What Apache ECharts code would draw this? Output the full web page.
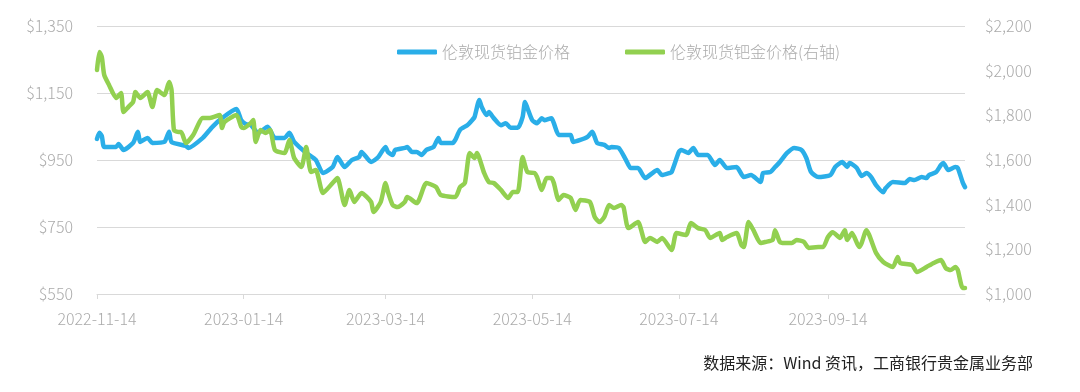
<!DOCTYPE html>
<html>
<head>
<meta charset="utf-8">
<script src="https://cdn.jsdelivr.net/npm/echarts@6/dist/echarts.min.js"></script>
<style>
html,body{margin:0;padding:0;background:#fff;}
#chart{width:1080px;height:392px;}
</style>
</head>
<body>
<div id="chart"></div>
<script>
// x轴刻度日期
var tickLabels = ['2022-11-14','2023-01-14','2023-03-14','2023-05-14','2023-07-14','2023-09-14'];

// 伦敦现货铂金价格（左轴）
var platDates = ['2022-11-14','2022-11-15','2022-11-16','2022-11-17','2022-11-22','2022-11-23','2022-11-25','2022-11-29',
	'2022-12-01','2022-12-02','2022-12-05','2022-12-07','2022-12-12','2022-12-14','2022-12-15','2022-12-21','2022-12-22','2022-12-28',
	'2023-01-01','2023-01-05','2023-01-11','2023-01-13','2023-01-15','2023-01-17','2023-01-20','2023-01-24','2023-01-27','2023-01-31',
	'2023-02-02','2023-02-04','2023-02-09','2023-02-13','2023-02-16','2023-02-20','2023-02-22','2023-02-25','2023-02-28',
	'2023-03-03','2023-03-04','2023-03-08','2023-03-11','2023-03-14','2023-03-15','2023-03-17','2023-03-18','2023-03-22','2023-03-23','2023-03-25','2023-03-27','2023-03-29','2023-03-31',
	'2023-04-03','2023-04-05','2023-04-06','2023-04-11','2023-04-12','2023-04-14','2023-04-17','2023-04-19','2023-04-20','2023-04-22','2023-04-23','2023-04-25','2023-04-26','2023-04-28',
	'2023-05-01','2023-05-03','2023-05-05','2023-05-08','2023-05-10','2023-05-11','2023-05-12','2023-05-14','2023-05-16','2023-05-18','2023-05-19','2023-05-22','2023-05-23','2023-05-25','2023-05-27','2023-05-30','2023-05-31',
	'2023-06-03','2023-06-06','2023-06-08','2023-06-10','2023-06-13','2023-06-15','2023-06-16','2023-06-19','2023-06-22','2023-06-24','2023-06-27','2023-06-30',
	'2023-07-03','2023-07-05','2023-07-07','2023-07-10','2023-07-11','2023-07-14','2023-07-15','2023-07-18','2023-07-20','2023-07-22','2023-07-26','2023-07-29','2023-07-31',
	'2023-08-03','2023-08-07','2023-08-10','2023-08-13','2023-08-17','2023-08-18','2023-08-21','2023-08-23','2023-08-25','2023-08-28','2023-08-31',
	'2023-09-03','2023-09-05','2023-09-07','2023-09-10','2023-09-15','2023-09-17','2023-09-20','2023-09-22','2023-09-23','2023-09-26','2023-09-28','2023-09-30',
	'2023-10-02','2023-10-04','2023-10-07','2023-10-08','2023-10-11','2023-10-16','2023-10-18','2023-10-20','2023-10-23','2023-10-25','2023-10-26','2023-10-29','2023-10-31',
	'2023-11-01','2023-11-03','2023-11-06','2023-11-07','2023-11-09','2023-11-10'];
var platValues = [1013,1031,1022,989,989,998,980,1001,
	1034,1004,1016,1001,1004,1034,1004,992,986,1016,
	1049,1075,1102,1069,1057,1054,1031,1049,1016,1016,
	1031,1004,971,950,911,929,959,929,950,
	959,974,944,959,989,974,965,980,986,989,974,974,965,980,
	989,1016,1001,1001,1010,1040,1054,1069,1078,1129,1108,1084,1093,1075,
	1054,1060,1046,1046,1078,1123,1105,1069,1060,1075,1069,1075,1060,1025,1025,1025,1004,
	1010,1019,1034,1001,995,986,989,986,950,926,926,896,
	911,920,905,911,914,974,980,971,986,965,965,935,950,
	926,929,899,905,884,911,914,929,944,971,986,
	980,956,914,899,905,929,944,929,941,926,902,911,
	899,875,854,866,884,881,893,890,899,896,905,914,935,
	941,920,929,926,884,869];

// 伦敦现货钯金价格（右轴）
var palDates = ['2022-11-14','2022-11-15','2022-11-16','2022-11-17','2022-11-19','2022-11-22','2022-11-24','2022-11-25','2022-11-27','2022-11-29','2022-11-30',
	'2022-12-02','2022-12-05','2022-12-07','2022-12-09','2022-12-12','2022-12-14','2022-12-15','2022-12-16','2022-12-18','2022-12-19','2022-12-21','2022-12-24','2022-12-28','2022-12-31',
	'2023-01-04','2023-01-05','2023-01-06','2023-01-11','2023-01-13','2023-01-14','2023-01-17','2023-01-18','2023-01-19','2023-01-21','2023-01-23','2023-01-25','2023-01-27','2023-01-31',
	'2023-02-02','2023-02-04','2023-02-07','2023-02-09','2023-02-11','2023-02-13','2023-02-16','2023-02-20','2023-02-22','2023-02-25','2023-02-27',
	'2023-03-01','2023-03-04','2023-03-08','2023-03-09','2023-03-12','2023-03-14','2023-03-15','2023-03-17','2023-03-19','2023-03-22','2023-03-23','2023-03-27','2023-03-31',
	'2023-04-04','2023-04-06','2023-04-12','2023-04-14','2023-04-16','2023-04-18','2023-04-20','2023-04-21','2023-04-24','2023-04-26','2023-04-28',
	'2023-05-01','2023-05-04','2023-05-06','2023-05-08','2023-05-10','2023-05-12','2023-05-15','2023-05-16','2023-05-18','2023-05-20','2023-05-22','2023-05-23','2023-05-25','2023-05-27','2023-05-30',
	'2023-06-01','2023-06-03','2023-06-07','2023-06-09','2023-06-11','2023-06-13','2023-06-15','2023-06-17','2023-06-20','2023-06-21','2023-06-23','2023-06-27','2023-06-30',
	'2023-07-02','2023-07-05','2023-07-07','2023-07-11','2023-07-13','2023-07-17','2023-07-19','2023-07-22','2023-07-25','2023-07-27','2023-07-31',
	'2023-08-01','2023-08-03','2023-08-07','2023-08-09','2023-08-10','2023-08-12','2023-08-14','2023-08-17','2023-08-19','2023-08-22','2023-08-23','2023-08-25','2023-08-27','2023-08-30',
	'2023-09-01','2023-09-04','2023-09-06','2023-09-10','2023-09-12','2023-09-14','2023-09-16','2023-09-19','2023-09-21','2023-09-22','2023-09-24','2023-09-27','2023-09-28','2023-09-30',
	'2023-10-04','2023-10-07','2023-10-11','2023-10-13','2023-10-14','2023-10-19','2023-10-21','2023-10-25','2023-10-28','2023-10-31',
	'2023-11-02','2023-11-04','2023-11-06','2023-11-07','2023-11-09','2023-11-10'];
var palValues = [2003,2084,2061,1981,1936,1878,1900,1815,1837,1860,1904,
	1878,1904,1837,1913,1891,1949,1913,1734,1725,1725,1676,1712,1788,1788,
	1801,1743,1770,1801,1748,1743,1766,1779,1681,1734,1721,1734,1645,1631,
	1690,1609,1569,1658,1546,1555,1452,1497,1519,1398,1466,
	1412,1452,1412,1367,1412,1497,1457,1398,1389,1412,1434,1407,1497,
	1479,1443,1434,1479,1497,1631,1609,1631,1542,1501,1497,
	1466,1430,1457,1457,1613,1546,1542,1524,1466,1519,1519,1497,1421,1443,1430,
	1376,1421,1412,1345,1322,1345,1398,1385,1398,1389,1295,1322,1233,
	1251,1233,1251,1197,1273,1264,1318,1295,1286,1251,1273,
	1242,1255,1273,1219,1210,1322,1286,1228,1233,1242,1286,1233,1228,1228,
	1242,1233,1206,1210,1210,1255,1277,1251,1286,1242,1273,1210,1228,1286,
	1184,1143,1121,1166,1139,1130,1098,1121,1139,1152,
	1116,1107,1121,1107,1027,1027];

// 每个日历日一个类目
var categories = [];
var d = new Date(2022, 10, 14);
var end = new Date(2023, 10, 10);
while (d <= end) {
	var m = d.getMonth() + 1, day = d.getDate();
	categories.push(d.getFullYear() + '-' + (m < 10 ? '0' + m : m) + '-' + (day < 10 ? '0' + day : day));
	d.setDate(d.getDate() + 1);
}

function pairs(dates, values) {
	var out = [];
	for (var i = 0; i < dates.length; i++) {
		out.push([dates[i], values[i]]);
	}
	return out;
}

function money(v) {
	return '$' + String(v).replace(/\B(?=(\d{3})+(?!\d))/g, ',');
}

var font = '"Noto Sans CJK SC", "Noto Sans", sans-serif';
var gray = '#ababab';

var chart = echarts.init(document.getElementById('chart'));
var option = {
	animation: false,
	textStyle: { fontFamily: font },
	legend: {
		left: 392,
		top: 39,
		icon: 'roundRect',
		itemWidth: 40,
		itemHeight: 5,
		itemGap: 55,
		textStyle: { color: gray, fontSize: 16, fontFamily: font, fontWeight: 300 },
		data: ['伦敦现货铂金价格', '伦敦现货钯金价格(右轴)']
	},
	grid: { left: 97, right: 115, top: 26, bottom: 98, containLabel: false },
	xAxis: {
		type: 'category',
		data: categories,
		boundaryGap: false,
		axisLine: { lineStyle: { color: '#d9d9d9', width: 1 } },
		axisTick: {
			lineStyle: { color: '#d9d9d9' },
			length: 5,
			interval: function (i, v) { return tickLabels.indexOf(v) >= 0; }
		},
		axisLabel: {
			color: gray,
			fontSize: 16,
			fontWeight: 300,
			margin: 17,
			interval: function (i, v) { return tickLabels.indexOf(v) >= 0; }
		},
		splitLine: { show: false }
	},
	yAxis: [{
		type: 'value',
		min: 550,
		max: 1350,
		interval: 200,
		axisLine: { show: false },
		axisTick: { show: false },
		axisLabel: { color: gray, fontSize: 16, fontWeight: 300, margin: 24, formatter: money },
		splitLine: { lineStyle: { color: '#d9d9d9', width: 1 } }
	}, {
		type: 'value',
		min: 1000,
		max: 2200,
		interval: 200,
		axisLine: { show: false },
		axisTick: { show: false },
		axisLabel: { color: gray, fontSize: 16, fontWeight: 300, margin: 20, formatter: money },
		splitLine: { show: false }
	}],
	series: [{
		name: '伦敦现货铂金价格',
		type: 'line',
		yAxisIndex: 0,
		data: pairs(platDates, platValues),
		showSymbol: false,
		smooth: 0.2,
		itemStyle: { color: '#2aaee8' },
		lineStyle: { color: '#2aaee8', width: 4.5, cap: 'round', join: 'round' }
	}, {
		name: '伦敦现货钯金价格(右轴)',
		type: 'line',
		yAxisIndex: 1,
		data: pairs(palDates, palValues),
		showSymbol: false,
		smooth: 0.2,
		itemStyle: { color: '#92d050' },
		lineStyle: { color: '#92d050', width: 4.5, cap: 'round', join: 'round' }
	}],
	graphic: [{
		type: 'text',
		right: 47,
		top: 355,
		style: {
			text: '数据来源：Wind 资讯，工商银行贵金属业务部',
			fill: '#222',
			fontSize: 16,
			fontFamily: font
		}
	}]
};
chart.setOption(option);
</script>
</body>
</html>
